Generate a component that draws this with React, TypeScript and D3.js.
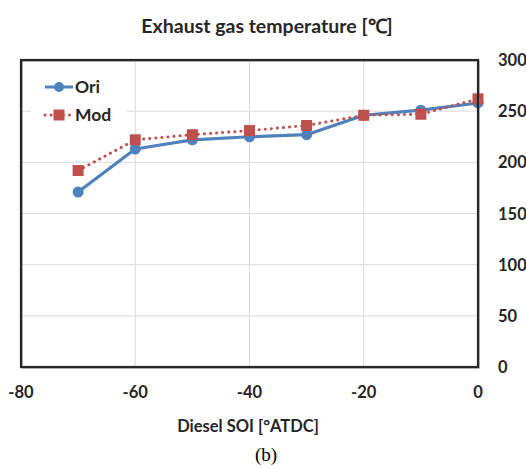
import React from "react";
import * as d3 from "d3";

// Diesel start of injection (°ATDC)
const soi = [-70, -60, -50, -40, -30, -20, -10, 0];
// Exhaust gas temperature (°C)
const oriTemp = [171, 213, 222, 225, 227, 246, 251, 258];
const modTemp = [192, 222, 227, 231, 236, 246, 247, 262];

const xTicks = [-80, -60, -40, -20, 0];
const yTicks = [0, 50, 100, 150, 200, 250, 300];

const W = 526;
const H = 468;
const plot = { left: 21, right: 478, top: 60, bottom: 367 };

const BLUE = "#4f81bd";
const RED = "#c0504d";
const TEXT = "#262626";
const FONT = "Lato, 'Open Sans', sans-serif";

export default function App() {
  const x = d3.scaleLinear().domain([-80, 0]).range([plot.left, plot.right]);
  const y = d3.scaleLinear().domain([0, 300]).range([plot.bottom, plot.top]);

  const line = d3
    .line<[number, number]>()
    .x((d) => x(d[0]))
    .y((d) => y(d[1]));

  const ori = soi.map((s, i) => [s, oriTemp[i]] as [number, number]);
  const mod = soi.map((s, i) => [s, modTemp[i]] as [number, number]);

  const sq = 11;

  return (
    <svg
      width={W}
      height={H}
      style={{ position: "absolute", left: 0, top: 0, background: "#fff" }}
      fontFamily={FONT}
    >
      <rect width={W} height={H} fill="#fff" />

      {/* title */}
      <text x={267} y={33} textAnchor="middle" fontSize={19.5} fontWeight={700} fill={TEXT}>
        Exhaust gas temperature [℃]
      </text>

      {/* gridlines */}
      {yTicks
        .filter((t) => t > 0 && t < 300)
        .map((t) => (
          <line key={"gy" + t} x1={plot.left} x2={plot.right} y1={y(t)} y2={y(t)} stroke="#d9d9d9" strokeWidth={1} />
        ))}
      {xTicks
        .filter((t) => t > -80 && t < 0)
        .map((t) => (
          <line key={"gx" + t} x1={x(t)} x2={x(t)} y1={plot.top} y2={plot.bottom} stroke="#d9d9d9" strokeWidth={1} />
        ))}

      {/* legend */}
      <rect x={31} y={70} width={96} height={58} fill="#fff" />
      <line x1={45} x2={73} y1={87} y2={87} stroke={BLUE} strokeWidth={3} />
      <circle cx={59} cy={87} r={5} fill={BLUE} />
      <text x={75} y={93} fontSize={17.5} fontWeight={700} fill={TEXT}>
        Ori
      </text>
      <line x1={45} x2={73} y1={115} y2={115} stroke={RED} strokeWidth={3} strokeDasharray="0.1 6" strokeLinecap="round" />
      <rect x={59 - sq / 2} y={115 - sq / 2} width={sq} height={sq} fill={RED} />
      <text x={75} y={121} fontSize={17.5} fontWeight={700} fill={TEXT}>
        Mod
      </text>

      {/* series */}
      <path d={line(ori) || ""} fill="none" stroke={BLUE} strokeWidth={3.2} strokeLinejoin="round" />
      {ori.map((d, i) => (
        <circle key={"o" + i} cx={x(d[0])} cy={y(d[1])} r={5.5} fill={BLUE} />
      ))}
      <path
        d={line(mod) || ""}
        fill="none"
        stroke={RED}
        strokeWidth={3}
        strokeDasharray="0.1 6"
        strokeLinecap="round"
      />
      {mod.map((d, i) => (
        <rect key={"m" + i} x={x(d[0]) - sq / 2} y={y(d[1]) - sq / 2} width={sq} height={sq} fill={RED} />
      ))}

      {/* plot frame */}
      <rect
        x={plot.left}
        y={plot.top}
        width={plot.right - plot.left}
        height={plot.bottom - plot.top}
        fill="none"
        stroke="#7f7f7f"
        strokeWidth={1}
        transform="translate(1,1)"
      />
      <rect
        x={plot.left}
        y={plot.top}
        width={plot.right - plot.left}
        height={plot.bottom - plot.top}
        fill="none"
        stroke="#262626"
        strokeWidth={2.2}
      />

      {/* x axis labels */}
      {xTicks.map((t) => (
        <text key={"xt" + t} x={x(t)} y={398} textAnchor="middle" fontSize={16.5} fontWeight={700} fill={TEXT}>
          {t}
        </text>
      ))}
      <text x={248} y={432} textAnchor="middle" fontSize={16.5} fontWeight={700} fill={TEXT}>
        Diesel SOI [°ATDC]
      </text>

      {/* y axis labels on the right */}
      {yTicks.map((t) => (
        <text key={"yt" + t} x={498} y={y(t) + 6} fontSize={16.5} fontWeight={700} fill={TEXT}>
          {t}
        </text>
      ))}

      <text x={266} y={461} textAnchor="middle" fontSize={19} fontFamily="'Liberation Serif', 'DejaVu Serif', serif" fill="#000">
        (b)
      </text>
    </svg>
  );
}
